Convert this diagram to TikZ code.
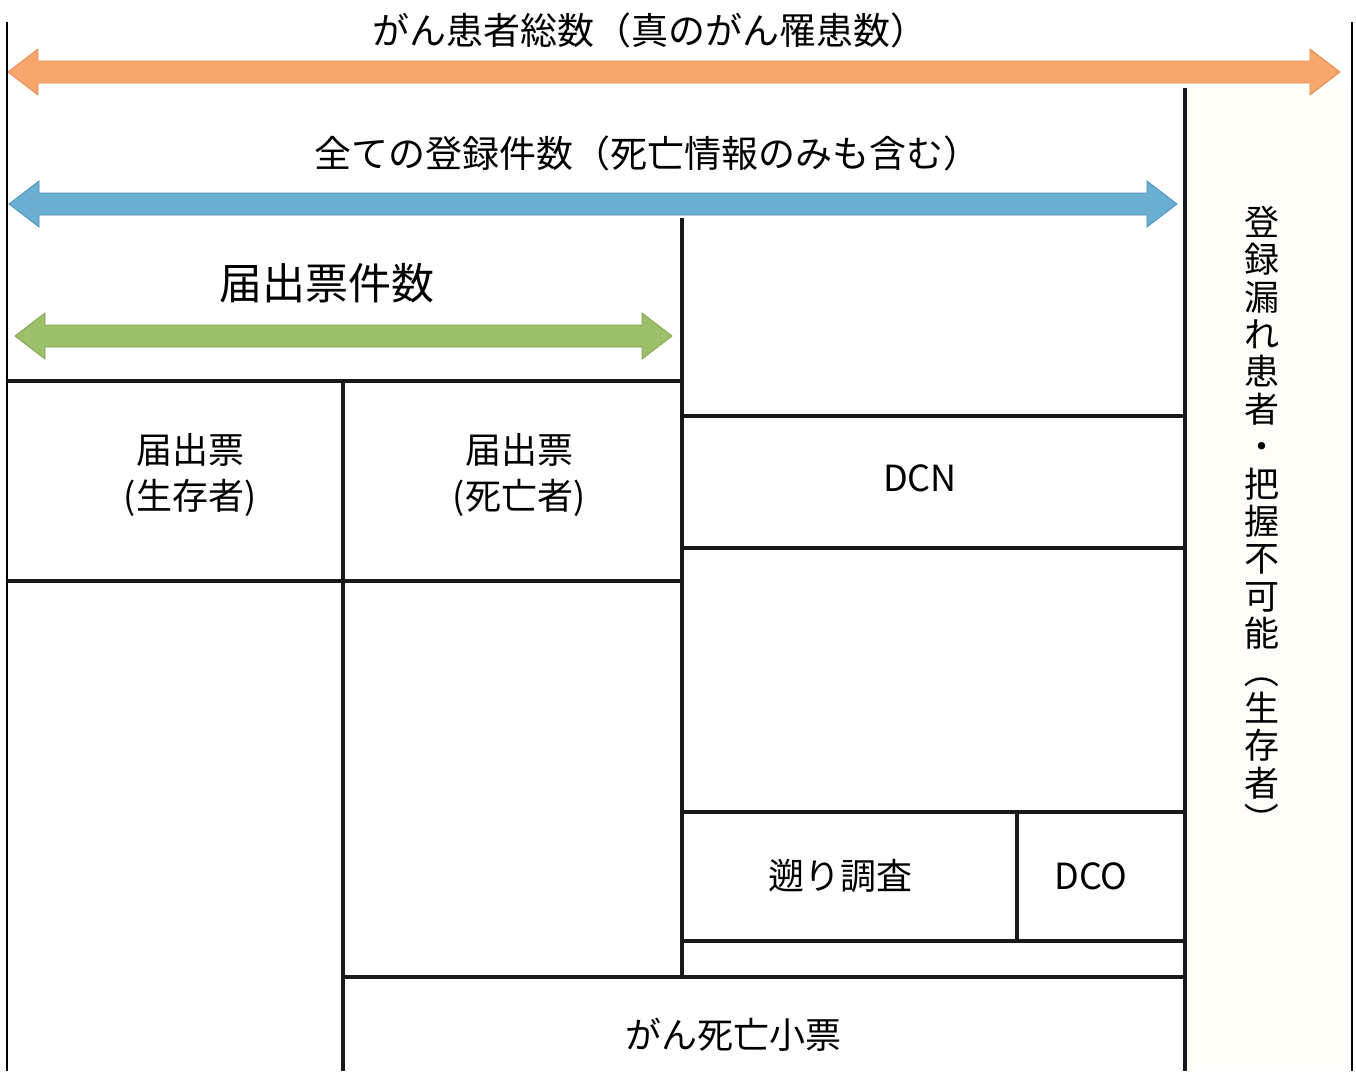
\documentclass[tikz,border=0pt]{standalone}
\usepackage{fontspec}
\usepackage{graphicx}
\setmainfont{Noto Sans CJK JP}
\definecolor{orfill}{HTML}{F9A66C}
\definecolor{ordraw}{HTML}{E38A50}
\definecolor{blfill}{HTML}{6AAFD2}
\definecolor{bldraw}{HTML}{4C90B6}
\definecolor{grfill}{HTML}{9CC069}
\definecolor{grdraw}{HTML}{7FA24C}
\definecolor{cream}{HTML}{FEFDF8}
\newcommand{\dimarrow}[4]{%
  \draw[#4] (#1,#3) -- (#1+30,#3-23) -- (#1+30,#3-11) -- (#2-30,#3-11) -- (#2-30,#3-23) -- (#2,#3)
   -- (#2-30,#3+23) -- (#2-30,#3+11) -- (#1+30,#3+11) -- (#1+30,#3+23) -- cycle;}
\tikzset{
  orarrow/.style={fill=orfill,draw=ordraw,line width=0.8pt},
  blarrow/.style={fill=blfill,draw=bldraw,line width=0.8pt},
  grarrow/.style={fill=grfill,draw=grdraw,line width=0.8pt},
  outer/.style={line width=2pt,black},
  inner/.style={line width=3.2pt,black!90},
  lbl/.style={inner sep=0pt,font=\fontsize{36}{46}\selectfont,align=center},
  ttl/.style={inner sep=0pt,font=\fontsize{37}{44}\selectfont},
  biglbl/.style={inner sep=0pt,font=\fontsize{43}{50}\selectfont},
  vlbl/.style={inner sep=0pt,font=\fontsize{35}{37.4}\selectfont,align=center}
}
\begin{document}
\begin{tikzpicture}[x=1pt,y=-1pt]
\useasboundingbox (0,0) rectangle (1356,1071);
% right column background
\fill[cream] (1185,88) rectangle (1352,1071);
% dimension arrows
\dimarrow{8}{1340}{72}{orarrow}
\dimarrow{9}{1177}{204}{blarrow}
\dimarrow{15}{672}{336}{grarrow}
% outer frame lines
\draw[outer] (7,22) -- (7,1071);
\draw[outer] (1352,22) -- (1352,1071);
\draw[inner] (1185,88) -- (1185,1071);
% left block
\draw[inner] (682,218) -- (682,977);
\draw[inner] (7,381) -- (682,381);
\draw[inner] (7,581) -- (682,581);
\draw[inner] (343,381) -- (343,1071);
% right block
\draw[inner] (682,416) -- (1185,416);
\draw[inner] (682,548) -- (1185,548);
\draw[inner] (682,812) -- (1185,812);
\draw[inner] (682,941) -- (1185,941);
\draw[inner] (1017,812) -- (1017,941);
\draw[inner] (343,977) -- (1185,977);
% labels
\node[ttl] (total) at (650,30) {がん患者総数（真のがん罹患数）};
\node[ttl] (allreg) at (647,153) {全ての登録件数（死亡情報のみも含む）};
\node[biglbl] (todoke) at (327,283) {届出票件数};
\node[lbl] (alive) at (190,475) {届出票\\(生存者)};
\node[lbl] (dead) at (519,475) {届出票\\(死亡者)};
\node[lbl] (dcn) at (920,478) {DCN};
\node[lbl] (sakanobori) at (840,876) {遡り調査};
\node[lbl] (dco) at (1091,876) {DCO};
\node[lbl] (shibou) at (733,1035) {がん死亡小票};
\node[vlbl] (missing) at (1262,522) {登\\録\\漏\\れ\\患\\者\\・\\把\\握\\不\\可\\能\\\rotatebox[origin=c]{-90}{（}\\生\\存\\者\\\rotatebox[origin=c]{-90}{）}};
\end{tikzpicture}
\end{document}
